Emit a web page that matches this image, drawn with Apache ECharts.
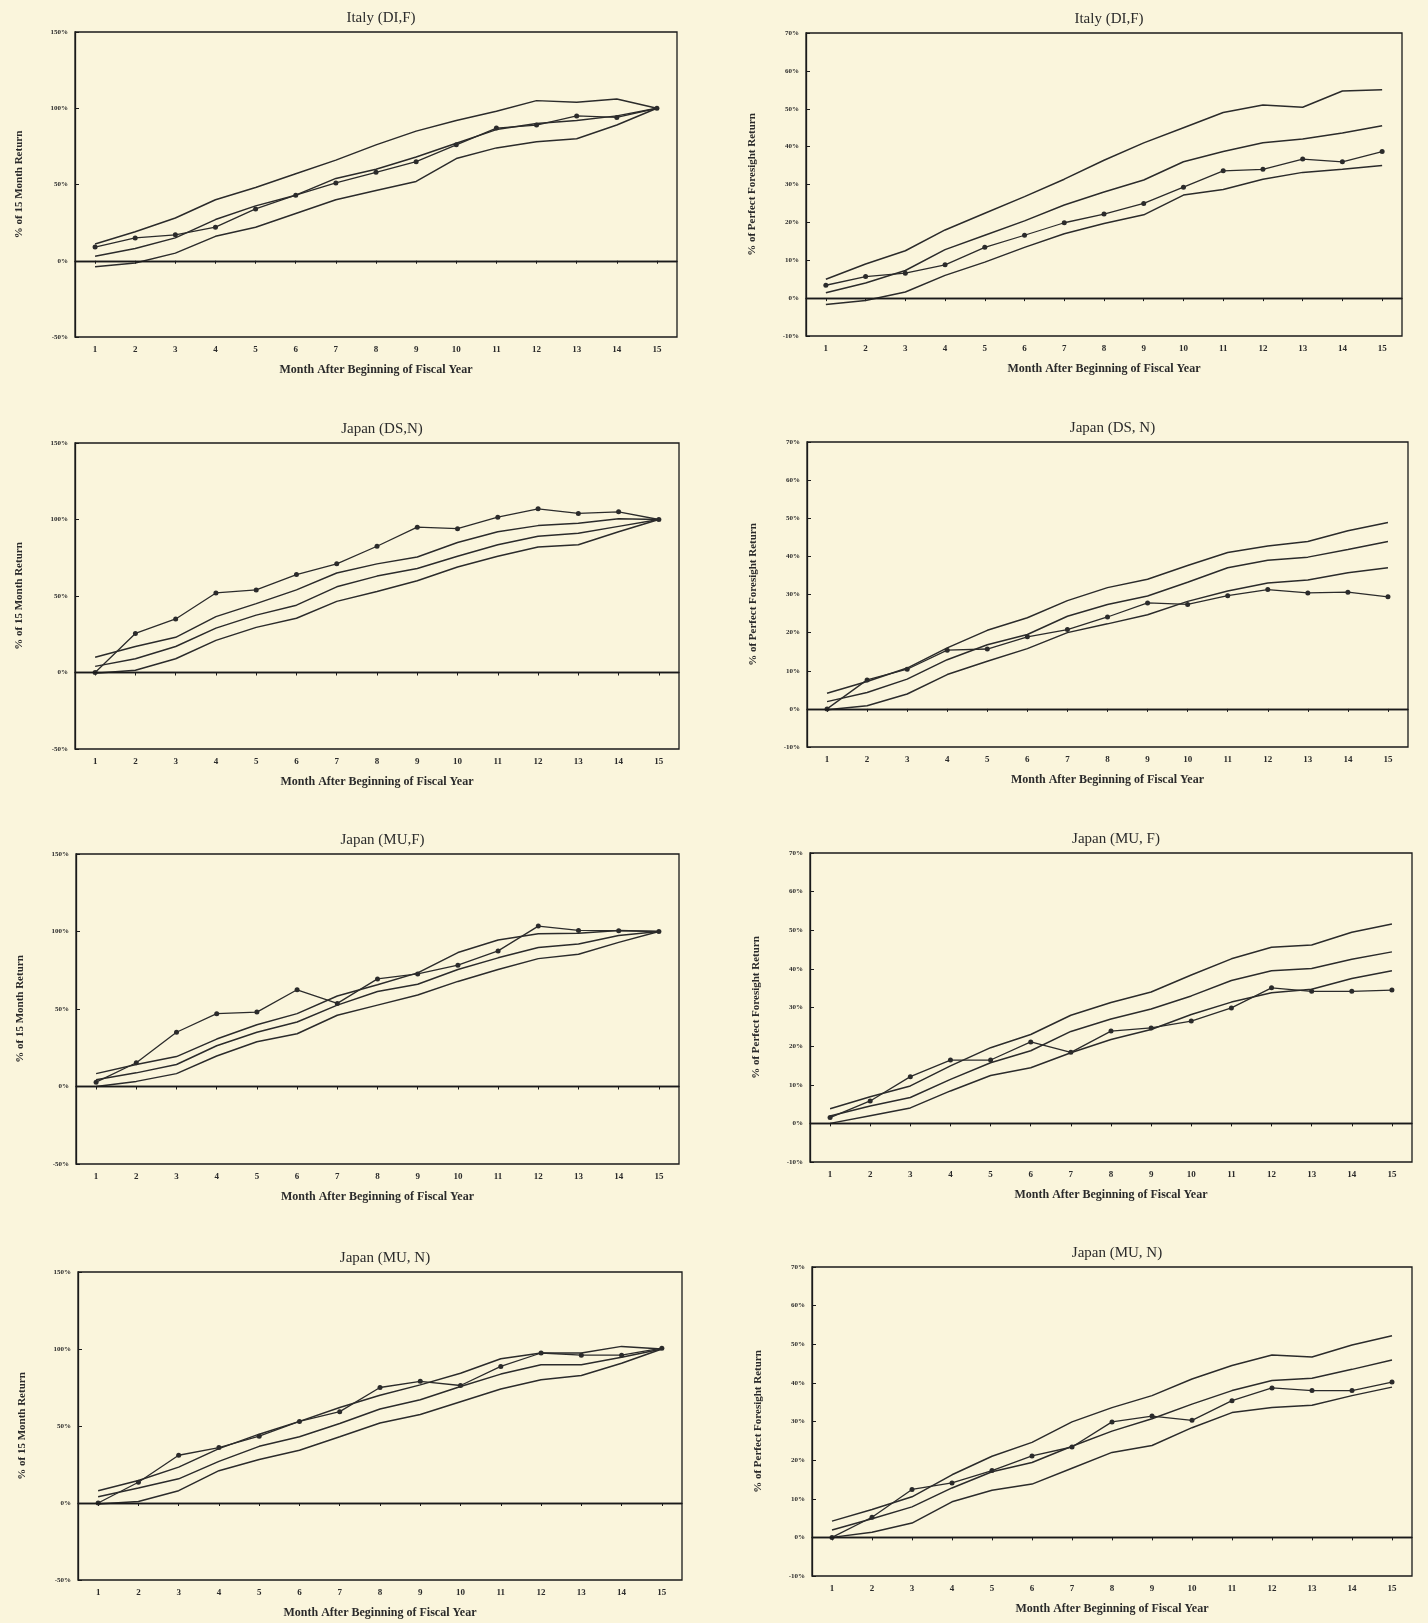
<!DOCTYPE html>
<html>
<head>
<meta charset="utf-8">
<script src="https://cdn.jsdelivr.net/npm/echarts@6/dist/echarts.min.js"></script>
<style>
  html, body { margin: 0; padding: 0; background: #faf5dc; }
  #chart { width: 1428px; height: 1623px; }
</style>
</head>
<body>
<div id="chart"></div>
<script>
const months = ['1', '2', '3', '4', '5', '6', '7', '8', '9', '10', '11', '12', '13', '14', '15']

// Italy (DI,F) - % of 15 month return
const italyRetUpper = [11, 19, 28, 40, 48, 57, 66, 76, 85, 92, 98, 105, 104, 106, 100]
const italyRetMid = [3, 8, 15, 27, 36, 43, 54, 60, 68, 77, 86, 90, 92, 95, 100]
const italyRetLow = [-4, -1.5, 5, 16, 22, 31, 40, 46, 52, 67, 74, 78, 80, 89, 100]
const italyRetDots = [9, 15, 17, 22, 34, 43, 51, 58, 65, 76, 87, 89, 95, 94, 100]

// Italy (DI,F) - % of perfect foresight return
const italyPfUpper = [5, 9, 12.5, 18, 22.4, 26.8, 31.4, 36.4, 41, 45, 49, 51, 50.4, 54.7, 55]
const italyPfMid = [1.4, 4, 7.3, 12.8, 16.6, 20.4, 24.6, 28, 31.2, 36, 38.7, 41, 42, 43.6, 45.5]
const italyPfLow = [-1.7, -0.6, 1.6, 6, 9.5, 13.4, 17, 19.7, 22, 27.2, 28.7, 31.4, 33.2, 34, 35]
const italyPfDots = [3.4, 5.7, 6.6, 8.8, 13.4, 16.6, 19.9, 22.2, 25, 29.3, 33.6, 34, 36.7, 36, 38.7]

// Japan (DS,N)
const dsnRetUpper = [10, 17, 23, 36.5, 45, 54, 65, 71, 75.5, 85, 92, 96, 97.5, 100.5, 100]
const dsnRetMid = [4, 9, 17, 29, 37.5, 44, 56, 63, 68, 76, 83.5, 89, 91, 95.5, 100]
const dsnRetLow = [-0.5, 1.5, 9, 21, 29.5, 35.5, 46.5, 53, 60, 69, 76, 82, 83.5, 92, 100]
const dsnRetDots = [0, 25.5, 35, 52, 54, 64, 71, 82.5, 95, 94, 101.5, 107, 104, 105, 100]

const dsnPfUpper = [4.1, 7.2, 10.7, 16, 20.6, 23.9, 28.4, 31.8, 34, 37.6, 41, 42.7, 43.9, 46.7, 48.9]
const dsnPfMid = [1.9, 4.3, 7.8, 12.9, 16.8, 19.5, 24.3, 27.4, 29.6, 33.2, 37, 39, 39.8, 41.8, 43.9]
const dsnPfLow = [-0.2, 0.8, 3.9, 9, 12.5, 15.8, 20, 22.3, 24.7, 28.2, 30.9, 33, 33.8, 35.7, 37]
const dsnPfDots = [0, 7.6, 10.4, 15.4, 15.7, 18.9, 20.8, 24.1, 27.8, 27.4, 29.7, 31.3, 30.4, 30.6, 29.4]

// Japan (MU,F)
const mufRetUpper = [8.3, 14.2, 19.3, 30.6, 39.8, 47, 58.4, 65.6, 73.3, 86.4, 94.5, 98.5, 98.9, 100.7, 100]
const mufRetMid = [4.4, 8.8, 14.2, 26.3, 35, 41.6, 52.5, 61.3, 66, 75.5, 83, 89.7, 92, 97.4, 100]
const mufRetLow = [0, 3.3, 8.3, 19.7, 28.9, 34, 46, 52.5, 59, 67.8, 75.5, 82.5, 85.3, 93, 100]
const mufRetDots = [2.8, 15.3, 35, 47, 48, 62.4, 53.6, 69.4, 72.6, 78.3, 87.5, 103.5, 100.7, 100.5, 100]

const mufPfUpper = [3.8, 6.9, 9.7, 14.9, 19.6, 23, 28, 31.3, 34, 38.4, 42.6, 45.6, 46.2, 49.5, 51.6]
const mufPfMid = [1.9, 4.5, 6.7, 11.4, 15.7, 18.8, 23.8, 27, 29.6, 33, 37, 39.5, 40.1, 42.5, 44.4]
const mufPfLow = [0, 2, 4, 8.4, 12.4, 14.4, 18.3, 21.7, 24.3, 28.2, 31.4, 33.8, 34.7, 37.5, 39.5]
const mufPfDots = [1.5, 5.8, 12.1, 16.4, 16.4, 21.1, 18.4, 23.9, 24.7, 26.5, 29.9, 35.1, 34.2, 34.2, 34.5]

// Japan (MU, N)
const munRetUpper = [8, 14.6, 23.3, 35.3, 44.7, 53, 62, 70, 76.7, 84.3, 93.7, 97.4, 97.4, 101.7, 100]
const munRetMid = [4.1, 9.8, 15.7, 27, 36.8, 43, 51.6, 61, 67, 75.6, 83.7, 89.8, 89.8, 94.6, 100]
const munRetLow = [-0.6, 1, 8, 21, 28.3, 34.2, 43, 52, 57.5, 65.8, 74, 80, 82.8, 90.8, 100]
const munRetDots = [0, 13.5, 31, 36, 43.4, 53, 59.3, 75, 79, 76.3, 88.7, 97.4, 96, 96, 100.5]

const munPfUpper = [4.2, 7.2, 10.5, 16.2, 21, 24.6, 29.9, 33.6, 36.7, 41, 44.5, 47.2, 46.7, 49.8, 52.2]
const munPfMid = [1.9, 4.8, 7.9, 12.8, 17, 19.4, 23.6, 27.5, 30.7, 34.5, 38, 40.6, 41.2, 43.5, 45.9]
const munPfLow = [0, 1.3, 3.7, 9.2, 12.2, 13.8, 17.9, 22, 23.8, 28.4, 32.3, 33.6, 34.2, 36.7, 38.9]
const munPfDots = [0, 5.2, 12.4, 14.1, 17.3, 21.1, 23.4, 29.9, 31.4, 30.3, 35.4, 38.7, 38, 38, 40.2]

const panels = [
  { title: 'Italy (DI,F)', kind: 'ret', box: [75, 32, 602, 305], lines: [italyRetUpper, italyRetMid, italyRetLow], dots: italyRetDots },
  { title: 'Italy (DI,F)', kind: 'pf', box: [806, 33, 596, 303], lines: [italyPfUpper, italyPfMid, italyPfLow], dots: italyPfDots },
  { title: 'Japan (DS,N)', kind: 'ret', box: [75, 443, 604, 306], lines: [dsnRetUpper, dsnRetMid, dsnRetLow], dots: dsnRetDots },
  { title: 'Japan (DS, N)', kind: 'pf', box: [807, 442, 601, 305], lines: [dsnPfUpper, dsnPfMid, dsnPfLow], dots: dsnPfDots },
  { title: 'Japan (MU,F)', kind: 'ret', box: [76, 854, 603, 310], lines: [mufRetUpper, mufRetMid, mufRetLow], dots: mufRetDots },
  { title: 'Japan (MU, F)', kind: 'pf', box: [810, 853, 602, 309], lines: [mufPfUpper, mufPfMid, mufPfLow], dots: mufPfDots },
  { title: 'Japan (MU, N)', kind: 'ret', box: [78, 1272, 604, 308], lines: [munRetUpper, munRetMid, munRetLow], dots: munRetDots },
  { title: 'Japan (MU, N)', kind: 'pf', box: [812, 1267, 600, 309], lines: [munPfUpper, munPfMid, munPfLow], dots: munPfDots }
]

const ink = '#2b2b2b'
const serif = '"Liberation Serif", "DejaVu Serif", serif'

const chart = echarts.init(document.getElementById('chart'))

const title = []
const grid = []
const xAxis = []
const yAxis = []
const series = []

panels.forEach((p, i) => {
  const [left, top, width, height] = p.box
  title.push({
    text: p.title,
    left: left + width / 2,
    top: top - 26,
    textAlign: 'center',
    textStyle: { fontFamily: serif, fontSize: 15, fontWeight: 'normal', color: ink }
  })
  grid.push({
    left, top, width, height,
    show: true,
    borderColor: '#1a1a1a',
    borderWidth: 1.3,
    backgroundColor: 'transparent'
  })
  xAxis.push({
    gridIndex: i,
    type: 'category',
    data: months,
    boundaryGap: true,
    name: 'Month After Beginning of Fiscal Year',
    nameLocation: 'middle',
    nameGap: 27,
    nameTextStyle: { fontFamily: serif, fontSize: 12, fontWeight: 'bold', color: ink },
    axisLine: { show: true, lineStyle: { color: '#1a1a1a', width: 1.3 } },
    axisTick: { show: true, alignWithLabel: true, length: 3, lineStyle: { color: '#1a1a1a' } },
    axisLabel: { fontFamily: serif, fontSize: 9, fontWeight: 'bold', color: ink, margin: 8 },
    splitLine: { show: false }
  })
  const isRet = p.kind === 'ret'
  yAxis.push({
    gridIndex: i,
    type: 'value',
    min: isRet ? -50 : -10,
    max: isRet ? 150 : 70,
    interval: isRet ? 50 : 10,
    name: isRet ? '% of 15 Month Return' : '% of Perfect Foresight Return',
    nameLocation: 'middle',
    nameGap: isRet ? 50 : 48,
    nameRotate: 90,
    nameTextStyle: { fontFamily: serif, fontSize: 11, fontWeight: 'bold', color: ink },
    axisLine: { show: true, lineStyle: { color: '#1a1a1a', width: 1.3 } },
    axisTick: { show: true, inside: true, length: 4, lineStyle: { color: '#1a1a1a' } },
    axisLabel: { fontFamily: serif, fontSize: 7, fontWeight: 'bold', color: ink, margin: 7, formatter: '{value}%' },
    splitLine: { show: false }
  })
  p.lines.forEach(arr => {
    series.push({
      type: 'line',
      xAxisIndex: i,
      yAxisIndex: i,
      data: arr,
      symbol: 'none',
      lineStyle: { color: ink, width: 1.5 },
      silent: true
    })
  })
  series.push({
    type: 'line',
    xAxisIndex: i,
    yAxisIndex: i,
    data: p.dots,
    symbol: 'circle',
    symbolSize: 5,
    itemStyle: { color: ink },
    lineStyle: { color: ink, width: 1.3 },
    silent: true,
    markLine: {
      silent: true,
      symbol: 'none',
      label: { show: false },
      lineStyle: { color: '#1a1a1a', width: 1.3, type: 'solid' },
      data: [{ yAxis: 0 }]
    }
  })
})

chart.setOption({
  backgroundColor: '#faf5dc',
  animation: false,
  title,
  grid,
  xAxis,
  yAxis,
  series
})
</script>
</body>
</html>
